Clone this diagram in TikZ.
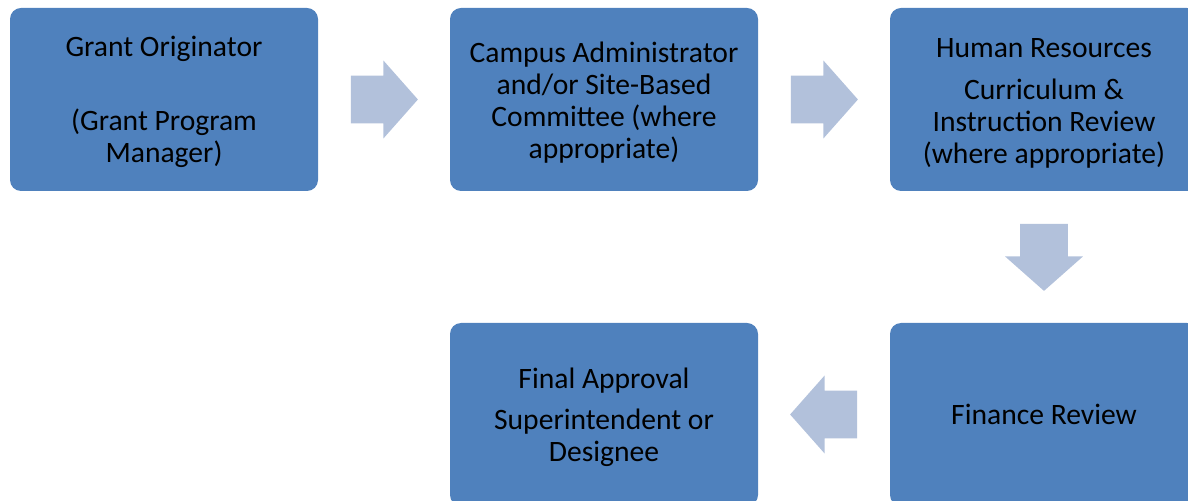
\documentclass[tikz,border=0pt]{standalone}
\usepackage{fontspec}
\setmainfont{Carlito}
\usetikzlibrary{shapes.arrows,calc}
\definecolor{stageblue}{HTML}{4F81BD}
\definecolor{arrowblue}{HTML}{B2C1DB}
\newcommand\topline{\rule{0pt}{13pt}}
\tikzset{
  stage/.style={rectangle, rounded corners=5.5pt, fill=stageblue, draw=none,
    minimum width=154pt, minimum height=91.5pt, inner sep=0pt, align=center,
    font=\fontsize{14.8}{16}\selectfont},
  flowarrow/.style={single arrow, fill=arrowblue, draw=none, anchor=tail,
    inner xsep=0pt, inner ysep=11.75pt,
    minimum height=33.5pt, minimum width=38.5pt,
    single arrow head extend=7.5pt, single arrow tip angle=97},
}
\begin{document}
\begin{tikzpicture}[x=0.5pt,y=-0.5pt]
				\useasboundingbox (0,0) rectangle (1188,501);
				\node[stage] (orig) at (164,99.5) {\topline Grant Originator\\[21pt](Grant Program\\Manager)};
				\node[stage] (campus) at (604,99.5) {\topline Campus Administrator\\and/or Site-Based\\Committee (where\\appropriate)};
				\node[stage] (hr) at (1044,99.5) {\topline Human Resources\\[5pt]Curriculum \&\\Instruction Review\\(where appropriate)};
				\node[stage] (fin) at (1044,414.5) {Finance Review};
				\node[stage] (final) at (604,414.5) {\topline Final Approval\\[4.5pt]Superintendent or\\Designee};
				% arrows: tail half a length before the middle of each gap
				\foreach \a/\b/\r in {orig/campus/0,campus/hr/0,hr/fin/-90,fin/final/180}
				\node[flowarrow, rotate=\r] (arr-\a) at ($($(\a)!0.5!(\b)$)!16.75pt!(\a)$) {};
			\end{tikzpicture}
\end{document}
